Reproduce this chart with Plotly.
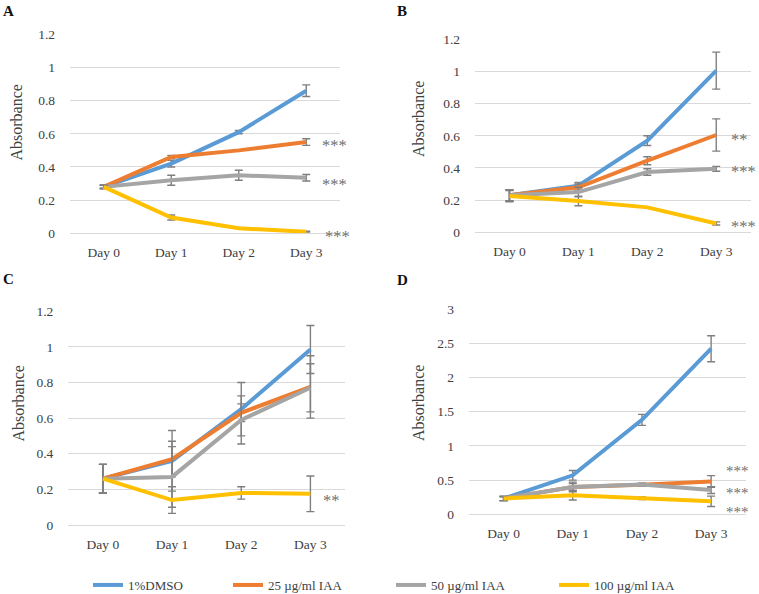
import plotly.graph_objects as go

# ---------------- data ----------------
days = ["Day 0", "Day 1", "Day 2", "Day 3"]
series_names = ["1%DMSO", "25 µg/ml IAA", "50 µg/ml IAA", "100 µg/ml IAA"]
series_colors = ["#5B9BD5", "#ED7D31", "#A5A5A5", "#FFC000"]

# Panel A
a_dmso = [0.28, 0.42, 0.61, 0.86]
a_dmso_err = [0.01, 0.02, 0.01, 0.035]
a_25 = [0.28, 0.46, 0.50, 0.55]
a_25_err = [0.01, 0.01, 0.0, 0.02]
a_50 = [0.28, 0.32, 0.35, 0.335]
a_50_err = [0.01, 0.03, 0.03, 0.02]
a_100 = [0.28, 0.095, 0.03, 0.01]
a_100_err = [0.01, 0.015, 0.0, 0.003]

# Panel B
b_dmso = [0.23, 0.29, 0.57, 1.005]
b_dmso_err = [0.035, 0.02, 0.03, 0.115]
b_25 = [0.23, 0.28, 0.445, 0.605]
b_25_err = [0.035, 0.02, 0.025, 0.10]
b_50 = [0.23, 0.25, 0.375, 0.395]
b_50_err = [0.035, 0.03, 0.02, 0.015]
b_100 = [0.225, 0.195, 0.155, 0.055]
b_100_err = [0.035, 0.03, 0.0, 0.01]

# Panel C
c_dmso = [0.26, 0.36, 0.65, 0.985]
c_dmso_err = [0.08, 0.17, 0.15, 0.135]
c_25 = [0.26, 0.37, 0.63, 0.775]
c_25_err = [0.08, 0.10, 0.05, 0.175]
c_50 = [0.26, 0.27, 0.59, 0.77]
c_50_err = [0.08, 0.17, 0.135, 0.135]
c_100 = [0.26, 0.14, 0.18, 0.175]
c_100_err = [0.08, 0.075, 0.035, 0.10]

# Panel D
d_dmso = [0.23, 0.57, 1.38, 2.42]
d_dmso_err = [0.03, 0.07, 0.08, 0.19]
d_25 = [0.23, 0.40, 0.43, 0.48]
d_25_err = [0.03, 0.05, 0.02, 0.085]
d_50 = [0.23, 0.40, 0.435, 0.355]
d_50_err = [0.03, 0.07, 0.02, 0.05]
d_100 = [0.23, 0.28, 0.235, 0.19]
d_100_err = [0.03, 0.07, 0.02, 0.075]

# significance marks at Day 3: (text, level)
a_sig = [("***", 0.55), ("***", 0.31), ("***", 0.0)]
b_sig = [("**", 0.594), ("***", 0.398), ("***", 0.052)]
c_sig = [("**", 0.155)]
d_sig = [("***", 0.68), ("***", 0.35), ("***", 0.08)]

panels = [
    dict(label="A", values=[a_dmso, a_25, a_50, a_100],
         errs=[a_dmso_err, a_25_err, a_50_err, a_100_err], sig=a_sig,
         ymax=1.2, dtick=0.2),
    dict(label="B", values=[b_dmso, b_25, b_50, b_100],
         errs=[b_dmso_err, b_25_err, b_50_err, b_100_err], sig=b_sig,
         ymax=1.2, dtick=0.2),
    dict(label="C", values=[c_dmso, c_25, c_50, c_100],
         errs=[c_dmso_err, c_25_err, c_50_err, c_100_err], sig=c_sig,
         ymax=1.2, dtick=0.2),
    dict(label="D", values=[d_dmso, d_25, d_50, d_100],
         errs=[d_dmso_err, d_25_err, d_50_err, d_100_err], sig=d_sig,
         ymax=3, dtick=0.5),
]

# ---------------- layout geometry (pixels) ----------------
W, H = 759, 594
FONT = "Liberation Serif, Times New Roman, serif"
TXT = "#404040"

# plot area boxes: (left, right, top, bottom) in px
boxes = [(70, 340, 34.3, 233.3), (475, 750.7, 39.3, 232.3),
         (68.3, 345, 311.2, 525), (469, 745.7, 309, 514.3)]
panel_label_pos = [(8, 11), (402, 11), (8, 279), (402, 280)]
ytitle_pos = [(16, 122.5), (418, 119), (17.5, 404), (418, 403)]
sig_shift = [[15, 15, 18], [14, 14, 14], [12], [14, 14, 14]]
sig_size = [16.5, 16.5, 16.5, 15]
legend_x_px = [88, 228, 391, 554]
legend_y_px = 585


def px_x(v):
    return v / W


def px_y(v):
    return (H - v) / H


fig = go.Figure()
annotations = []
layout_axes = {}

for i, p in enumerate(panels):
    n = "" if i == 0 else str(i + 1)
    xa, ya = "x" + n, "y" + n
    for j, (name, color) in enumerate(zip(series_names, series_colors)):
        fig.add_trace(go.Scatter(
            x=days, y=p["values"][j], name=name, mode="lines",
            line=dict(color=color, width=4),
            error_y=dict(type="data", array=p["errs"][j], visible=True,
                         color="#7F7F7F", thickness=1.4, width=4),
            xaxis=xa, yaxis=ya,
            showlegend=(i == 0),
            legend=("legend" if j == 0 else "legend" + str(j + 1)),
        ))
    l, r, t, b = boxes[i]
    layout_axes["xaxis" + n] = dict(
        domain=[px_x(l), px_x(r)], anchor=ya, type="category",
        categoryorder="array", categoryarray=days,
        range=[-0.5, len(days) - 0.5],
        showgrid=False, showline=False, zeroline=False, ticks="",
        ticklabelstandoff=9,
        tickfont=dict(family=FONT, size=13.5, color=TXT),
    )
    layout_axes["yaxis" + n] = dict(
        domain=[px_y(b), px_y(t)], anchor=xa,
        range=[0, p["ymax"]], dtick=p["dtick"], tick0=0,
        showgrid=True, gridcolor="#D9D9D9", gridwidth=1,
        zeroline=True, zerolinecolor="#D9D9D9", zerolinewidth=1,
        showline=False, ticks="", ticklabelstandoff=14,
        tickfont=dict(family=FONT, size=13.5, color=TXT),
    )
    # panel label
    lx, ly = panel_label_pos[i]
    annotations.append(dict(
        text="<b>" + p["label"] + "</b>", xref="paper", yref="paper",
        x=px_x(lx), y=px_y(ly), xanchor="center", yanchor="middle",
        showarrow=False, font=dict(family=FONT, size=15, color="#111111")))
    # y title
    tx, ty = ytitle_pos[i]
    annotations.append(dict(
        text="Absorbance", xref="paper", yref="paper",
        x=px_x(tx), y=px_y(ty), xanchor="center", yanchor="middle",
        textangle=-90, showarrow=False,
        font=dict(family=FONT, size=16, color=TXT)))
    # significance marks
    for k, (s, lev) in enumerate(p["sig"]):
        annotations.append(dict(
            text=s, xref=xa, yref=ya, x=len(days) - 1, y=lev,
            xanchor="left", yanchor="middle", xshift=sig_shift[i][k],
            yshift=-3, showarrow=False, borderpad=0,
            font=dict(family=FONT, size=sig_size[i], color="#6F6F6F")))

legends = {}
for j in range(len(series_names)):
    key = "legend" if j == 0 else "legend" + str(j + 1)
    legends[key] = dict(
        x=px_x(legend_x_px[j]), y=px_y(legend_y_px), xanchor="left",
        yanchor="middle", orientation="h", bgcolor="rgba(0,0,0,0)",
        borderwidth=0, font=dict(family=FONT, size=13, color=TXT),
        itemwidth=30,
    )

fig.update_layout(
    width=W, height=H, template="none",
    margin=dict(l=0, r=0, t=0, b=0, autoexpand=False),
    paper_bgcolor="white", plot_bgcolor="white",
    annotations=annotations,
    **layout_axes, **legends,
)

fig.write_html(
    "out.html",
    config={"displayModeBar": False},
    post_script="document.body.style.margin='0';"
                "document.body.style.overflow='hidden';",
)
